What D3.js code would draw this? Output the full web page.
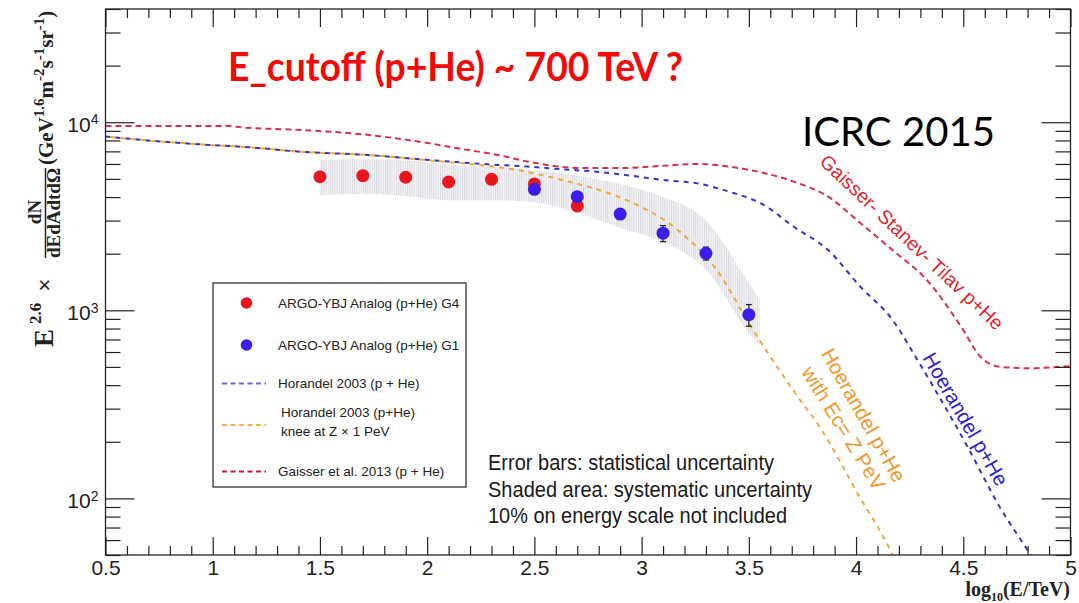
<!DOCTYPE html>
<html><head><meta charset="utf-8">
<script src="https://cdn.jsdelivr.net/npm/d3@7"></script>
<style>body{margin:0;background:#fff} svg{display:block}</style>
</head><body>
<svg id="chart" width="1079" height="603"></svg>
<script>
// ---------------- data ----------------
const g4X = [1.5, 1.7, 1.9, 2.1, 2.3, 2.5, 2.7];
const g4Y = [5130, 5200, 5100, 4810, 4970, 4700, 3590];
const g4Err = [150, 150, 150, 150, 160, 170, 180];

const g1X = [2.5, 2.7, 2.9, 3.1, 3.3, 3.5];
const g1Y = [4400, 4020, 3250, 2570, 2010, 948];
const g1Err = [150, 180, 200, 250, 160, 125];

const bandX  = [1.5, 1.7, 1.9, 2.1, 2.3, 2.5, 2.7, 2.9, 3.1, 3.3, 3.5, 3.55];
const bandHi = [6300, 6350, 6250, 5950, 5800, 5550, 5200, 4700, 4000, 3000, 1400, 1150];
const bandLo = [4100, 4150, 4050, 3850, 3850, 3750, 3300, 2750, 2300, 1650, 760, 650];

const gaisserX = [0.5, 1.07, 1.13, 1.41, 1.73, 2.01, 2.17, 2.33, 2.47, 2.73, 2.91, 3.1, 3.26, 3.41, 3.57, 3.71, 3.87, 4.02, 4.17, 4.33, 4.49, 4.58, 4.67, 4.8, 4.95, 5.0];
const gaisserY = [9550, 9550, 9400, 9100, 8550, 7730, 7180, 6700, 6170, 5710, 5710, 5870, 6000, 5800, 5370, 4830, 4020, 2910, 2090, 1450, 818, 566, 501, 492, 501, 505];

const horX = [0.5, 0.71, 0.94, 1.17, 1.41, 1.72, 1.95, 2.17, 2.33, 2.48, 2.63, 2.79, 2.95, 3.1, 3.26, 3.41, 3.57, 3.71, 3.87, 4.02, 4.17, 4.28, 4.36, 4.52, 4.67, 4.8, 4.84];
const horY = [8400, 7980, 7630, 7360, 6970, 6700, 6380, 6100, 5930, 5800, 5620, 5460, 5200, 4930, 4730, 4270, 3630, 2780, 2090, 1335, 889, 560, 393, 188, 90, 53, 45];

const hor1X = [0.5, 0.71, 0.94, 1.17, 1.41, 1.72, 2.03, 2.42, 2.63, 2.75, 2.87, 2.98, 3.1, 3.19, 3.35, 3.51, 3.61, 3.73, 3.83, 3.93, 3.99, 4.16, 4.19];
const hor1Y = [8400, 7980, 7630, 7360, 6970, 6700, 6240, 5570, 4930, 4540, 4100, 3630, 3050, 2550, 1640, 818, 545, 345, 240, 154, 115, 53, 45];

const xMajorTicks = [0.5, 1, 1.5, 2, 2.5, 3, 3.5, 4, 4.5, 5];
const xTickLabels = ["0.5", "1", "1.5", "2", "2.5", "3", "3.5", "4", "4.5", "5"];
const yMajorTicks = [100, 1000, 10000];
const yTickExp = ["2", "3", "4"];

const legendNames = ["ARGO-YBJ Analog (p+He) G4", "ARGO-YBJ Analog (p+He) G1", "Horandel 2003 (p + He)", "Horandel 2003 (p+He)", "knee at Z \u00d7 1 PeV", "Gaisser et al. 2013 (p + He)"];
const noteLines = ["Error bars: statistical uncertainty", "Shaded area: systematic uncertainty", "10% on energy scale not included"];

// ---------------- setup ----------------
const svg = d3.select("#chart");
const L = 105.5, R = 1070.5, T = 9, B = 555;
const x = d3.scaleLinear().domain([0.5, 5]).range([L, R]);
const y = d3.scaleLog().domain([50, 40000]).range([B, T]);

const C = {red: "#e8161c", blue: "#3a1ee6", gaisser: "#d6304c", hor: "#3434c8", hor1: "#f2a63c"};

const defs = svg.append("defs");
const pat = defs.append("pattern").attr("id", "hatch").attr("width", 2.2).attr("height", 3).attr("patternUnits", "userSpaceOnUse");
pat.append("rect").attr("width", 2.2).attr("height", 3).attr("fill", "#f6f6f8");
pat.append("rect").attr("width", 1).attr("height", 3).attr("fill", "#d8d8e0");
defs.append("clipPath").attr("id", "plotclip").append("rect").attr("x", L).attr("y", T).attr("width", R - L).attr("height", B - T);

const plot = svg.append("g").attr("clip-path", "url(#plotclip)");

// band
const band = bandX.map((d, i) => ({x: d, hi: bandHi[i], lo: bandLo[i]}));
plot.append("path").datum(band)
  .attr("d", d3.area().x(d => x(d.x)).y0(d => y(d.lo)).y1(d => y(d.hi)).curve(d3.curveMonotoneX))
  .attr("fill", "url(#hatch)");

// curves
const line = d3.line().x(d => x(d[0])).y(d => y(d[1])).curve(d3.curveMonotoneX);
function curve(xs, ys, color, dash, offset) {
  plot.append("path").datum(xs.map((d, i) => [d, ys[i]]))
    .attr("d", line).attr("fill", "none").attr("stroke", color)
    .attr("stroke-width", 2).attr("stroke-dasharray", dash).attr("stroke-dashoffset", offset || 0);
}
curve(horX, horY, C.hor, "5,5", 0);
curve(hor1X, hor1Y, C.hor1, "5,5", 5);
curve(gaisserX, gaisserY, C.gaisser, "6,4", 0);

// points
function points(xs, ys, errs, color) {
  const g = plot.append("g");
  xs.forEach((d, i) => {
    const cx = x(d), y1 = y(ys[i] + errs[i]), y0 = y(ys[i] - errs[i]);
    g.append("line").attr("x1", cx).attr("x2", cx).attr("y1", y1).attr("y2", y0).attr("stroke", "#222").attr("stroke-width", 1.2);
    g.append("line").attr("x1", cx - 3).attr("x2", cx + 3).attr("y1", y1).attr("y2", y1).attr("stroke", "#222").attr("stroke-width", 1.2);
    g.append("line").attr("x1", cx - 3).attr("x2", cx + 3).attr("y1", y0).attr("y2", y0).attr("stroke", "#222").attr("stroke-width", 1.2);
  });
  g.selectAll("circle.m").data(xs).enter().append("circle")
    .attr("cx", d => x(d)).attr("cy", (d, i) => y(ys[i])).attr("r", 6.5).attr("fill", color);
}
points(g4X, g4Y, g4Err, C.red);
points(g1X, g1Y, g1Err, C.blue);

// ---------------- axes ----------------
const xMinor = d3.range(5, 51).map(d => d / 10).filter(d => Math.abs(d * 2 - Math.round(d * 2)) > 1e-6);
const yMinor = [];
[10, 100, 1000, 10000].forEach(dec => { for (let k = 2; k <= 9; k++) { const v = dec * k; if (v >= 50 && v <= 40000) yMinor.push(v); } });

function styleAxis(g) { g.select(".domain").remove(); g.selectAll("line").attr("stroke", "#222").attr("stroke-width", 1.2); }

svg.append("g").attr("transform", `translate(0,${B})`).call(d3.axisBottom(x).tickValues(xMinor).tickSize(-9).tickFormat("")).call(styleAxis);
const xb = svg.append("g").attr("transform", `translate(0,${B})`)
  .call(d3.axisBottom(x).tickValues(xMajorTicks).tickSize(-18).tickPadding(5).tickFormat((d, i) => xTickLabels[i]))
  .call(styleAxis);
xb.selectAll("text").attr("font-family", "Liberation Sans, Arial, sans-serif").attr("font-size", 21).attr("fill", "#222");

svg.append("g").attr("transform", `translate(0,${T})`).call(d3.axisTop(x).tickValues(xMinor).tickSize(-9).tickFormat("")).call(styleAxis);
svg.append("g").attr("transform", `translate(0,${T})`).call(d3.axisTop(x).tickValues(xMajorTicks).tickSize(-18).tickFormat("")).call(styleAxis);

svg.append("g").attr("transform", `translate(${L},0)`).call(d3.axisLeft(y).tickValues(yMinor).tickSize(-15).tickFormat("")).call(styleAxis);
const yl = svg.append("g").attr("transform", `translate(${L},0)`)
  .call(d3.axisLeft(y).tickValues(yMajorTicks).tickSize(-29).tickPadding(7).tickFormat(""))
  .call(styleAxis);
yl.selectAll(".tick text").each(function(d, i) {
  const t = d3.select(this).attr("dy", "0.45em").attr("font-family", "Liberation Sans, Arial, sans-serif").attr("font-size", 21).attr("fill", "#222");
  t.text(null);
  t.append("tspan").text("10");
  t.append("tspan").attr("dy", "-0.55em").attr("font-size", 14).text(yTickExp[i]);
});
svg.append("g").attr("transform", `translate(${R},0)`).call(d3.axisRight(y).tickValues(yMinor).tickSize(-15).tickFormat("")).call(styleAxis);
svg.append("g").attr("transform", `translate(${R},0)`).call(d3.axisRight(y).tickValues(yMajorTicks).tickSize(-29).tickFormat("")).call(styleAxis);

// frame
svg.append("rect").attr("x", L).attr("y", T).attr("width", R - L).attr("height", B - T)
  .attr("fill", "none").attr("stroke", "#222").attr("stroke-width", 1.3);

// x-axis title
const serif = "Liberation Serif, Times New Roman, serif";
const xt = svg.append("text").attr("x", 1070).attr("y", 596).attr("text-anchor", "end")
  .attr("font-family", serif).attr("font-weight", "bold").attr("font-size", 20).attr("fill", "#222");
xt.append("tspan").text("log");
xt.append("tspan").attr("font-size", 12).attr("dy", 5).text("10");
xt.append("tspan").attr("dy", -5).text("(E/TeV)");

// y-axis title pieces (rotated)
function rot(px, py, txt, size, anchor, bold, fam) {
  return svg.append("text").attr("transform", `translate(${px},${py}) rotate(-90)`)
    .attr("text-anchor", anchor).attr("font-family", fam || serif).attr("font-weight", bold ? "bold" : "normal")
    .attr("font-size", size).attr("fill", "#222").text(txt);
}
rot(53, 347, "E", 27, "start", true);
rot(41, 324, "2.6", 17, "start", true);
rot(52, 285, "\u00d7", 22, "middle", false, "Liberation Sans, Arial, sans-serif");
rot(41, 212, "dN", 19, "middle", true);
rot(60, 213, "dEdAdtd\u03a9", 19, "middle", true);
svg.append("line").attr("x1", 45.5).attr("x2", 45.5).attr("y1", 258).attr("y2", 168).attr("stroke", "#222").attr("stroke-width", 1.5);
const un = rot(53, 165, "", 21, "start", true);
un.append("tspan").text("(GeV");
un.append("tspan").attr("font-size", 15).attr("dy", -9).text("1.6");
un.append("tspan").attr("dy", 9).text("m");
un.append("tspan").attr("font-size", 15).attr("dy", -9).text("-2");
un.append("tspan").attr("dy", 9).text("s");
un.append("tspan").attr("font-size", 15).attr("dy", -9).text("-1");
un.append("tspan").attr("dy", 9).text("sr");
un.append("tspan").attr("font-size", 15).attr("dy", -9).text("-1");
un.append("tspan").attr("dy", 9).text(")");

// ---------------- legend ----------------
const sans = "Liberation Sans, Arial, sans-serif";
const lg = svg.append("g");
lg.append("rect").attr("x", 213).attr("y", 283).attr("width", 253).attr("height", 204)
  .attr("fill", "#fff").attr("stroke", "#222").attr("stroke-width", 1.2);
lg.append("circle").attr("cx", 246.5).attr("cy", 303).attr("r", 5.8).attr("fill", C.red);
lg.append("circle").attr("cx", 246.5).attr("cy", 345).attr("r", 5.8).attr("fill", C.blue);
const legLines = [[383.5, "#6a6ad8"], [425, "#f2b055"], [471.5, "#c4203a"]];
legLines.forEach(d => lg.append("line").attr("x1", 222).attr("x2", 266).attr("y1", d[0]).attr("y2", d[0])
  .attr("stroke", d[1]).attr("stroke-width", 2).attr("stroke-dasharray", "5,3.5"));
const legPos = [[278, 308], [278, 350], [278, 388], [281, 417], [281, 436], [278, 476]];
legendNames.forEach((t, i) => lg.append("text").attr("x", legPos[i][0]).attr("y", legPos[i][1])
  .attr("font-family", sans).attr("font-size", 13.5).attr("fill", "#222").text(t));

// ---------------- annotations ----------------
svg.append("text").attr("x", 228).attr("y", 81).attr("font-family", "Lato, Open Sans, sans-serif").attr("font-weight", "bold")
  .attr("font-size", 40).attr("fill", "#f00a0a").attr("textLength", 455).attr("lengthAdjust", "spacingAndGlyphs")
  .text("E_cutoff (p+He) ~ 700 TeV ?");
svg.append("text").attr("x", 802).attr("y", 146).attr("font-family", "Lato, Open Sans, sans-serif")
  .attr("font-size", 40).attr("fill", "#000").attr("textLength", 193).attr("lengthAdjust", "spacingAndGlyphs")
  .text("ICRC 2015");

const noteY = [470, 497, 523], noteW = [286, 324, 299];
noteLines.forEach((t, i) => svg.append("text").attr("x", 488).attr("y", noteY[i])
  .attr("font-family", "Liberation Sans Narrow, Arial Narrow, Liberation Sans, sans-serif").attr("font-size", 22)
  .attr("fill", "#1a1a1a").attr("textLength", noteW[i]).attr("lengthAdjust", "spacingAndGlyphs").text(t));

function tilted(cx, cy, ang, txt, size, color) {
  svg.append("text").attr("transform", `translate(${cx},${cy}) rotate(${ang})`).attr("text-anchor", "middle")
    .attr("dominant-baseline", "central").attr("font-family", sans).attr("font-size", size).attr("fill", color).text(txt);
}
tilted(912, 242, 43.5, "Gaisser- Stanev- Tilav p+He", 19.5, "#e0262e");
tilted(966, 419, 60, "Hoerandel p+He", 20.5, "#2c22c8");
tilted(864, 415, 60.5, "Hoerandel p+He", 20.5, "#f0982c");
tilted(844, 428, 58.5, "with Ec= Z PeV", 20.5, "#f0982c");
</script>
</body></html>
